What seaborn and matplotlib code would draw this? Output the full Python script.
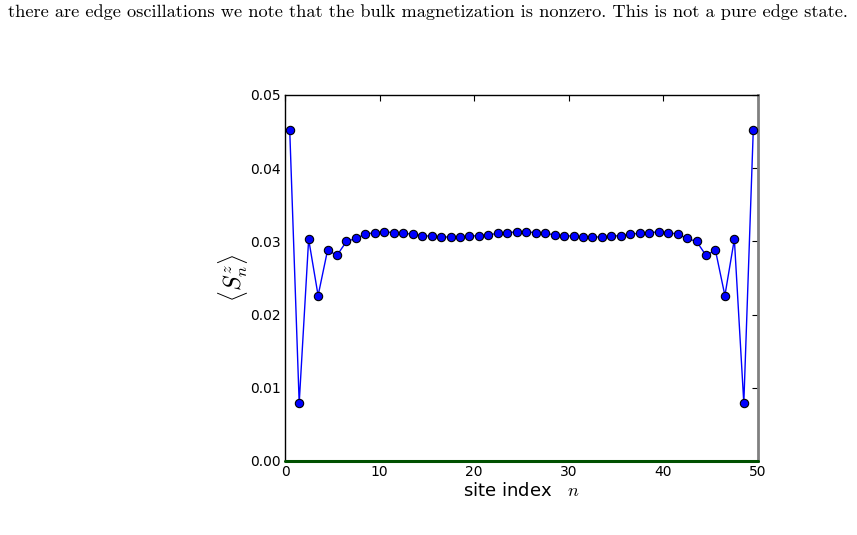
import numpy as np
import pandas as pd
import matplotlib
matplotlib.use("Agg")
import matplotlib.pyplot as plt
import seaborn as sns

# site index n (50 sites, plotted at half-integer positions)
site = np.arange(50) + 0.5
# <S^z_n>
sz = [0.0452, 0.0079, 0.0303, 0.0226, 0.0288, 0.0281, 0.0300, 0.0304, 0.0310, 0.0312,
      0.0313, 0.0312, 0.0311, 0.0310, 0.0308, 0.0307, 0.0306, 0.0306, 0.0306, 0.0307,
      0.0308, 0.0309, 0.0311, 0.0312, 0.0313, 0.0313, 0.0312, 0.0311, 0.0309, 0.0308,
      0.0307, 0.0306, 0.0306, 0.0306, 0.0307, 0.0308, 0.0310, 0.0311, 0.0312, 0.0313,
      0.0312, 0.0310, 0.0304, 0.0300, 0.0281, 0.0288, 0.0226, 0.0303, 0.0079, 0.0452]
xticks = [0, 10, 20, 30, 40, 50]
yticks = [0.00, 0.01, 0.02, 0.03, 0.04, 0.05]
caption = "there are edge oscillations we note that the bulk magnetization is nonzero. This is not a pure edge state."

df = pd.DataFrame({"site": site, "sz": sz})

sns.set_style("white")
plt.rcParams['font.family'] = ['DejaVu Sans']
plt.rcParams['mathtext.fontset'] = 'cm'
plt.rcParams['text.color'] = 'black'
plt.rcParams['xtick.color'] = 'black'
plt.rcParams['ytick.color'] = 'black'
plt.rcParams['axes.labelcolor'] = 'black'

fig = plt.figure(figsize=(8.57, 5.35), dpi=100)
W, H = 857, 535
ax = fig.add_axes([285 / W, 1 - 461 / H, (758 - 285) / W, (461 - 95) / H])

# zero line drawn over the bottom spine
ax.axhline(0, color='#005000', lw=2.2, zorder=2.6, clip_on=False)
sns.lineplot(data=df, x="site", y="sz", ax=ax, color='blue', lw=1,
             marker='o', markersize=6, markerfacecolor='blue',
             markeredgecolor='black', markeredgewidth=0.8, zorder=3)

ax.set_xlim(0, 50)
ax.set_ylim(0, 0.05)
ax.set_xticks(xticks)
ax.set_yticks(yticks)
ax.set_xticklabels([str(t) for t in xticks], fontsize=10)
ax.set_yticklabels([f"{t:.2f}" for t in yticks], fontsize=10)
ax.tick_params(direction='in', top=True, right=True, length=4, width=0.8, pad=3)

for s in ['left', 'top', 'bottom']:
    ax.spines[s].set_color('black')
    ax.spines[s].set_linewidth(1)
ax.spines['right'].set_color('#808080')
ax.spines['right'].set_linewidth(2)

ax.set_xlabel(r"site index   $n$", fontsize=13, labelpad=2)
ax.set_ylabel(r"$\langle S^z_n\rangle$", fontsize=17, labelpad=0)

fig.text(8 / W, 1 - 12 / H, caption, family='cmr10', fontsize=13.2,
         ha='left', va='center', color='black')

fig.savefig("out.png", dpi=100)
